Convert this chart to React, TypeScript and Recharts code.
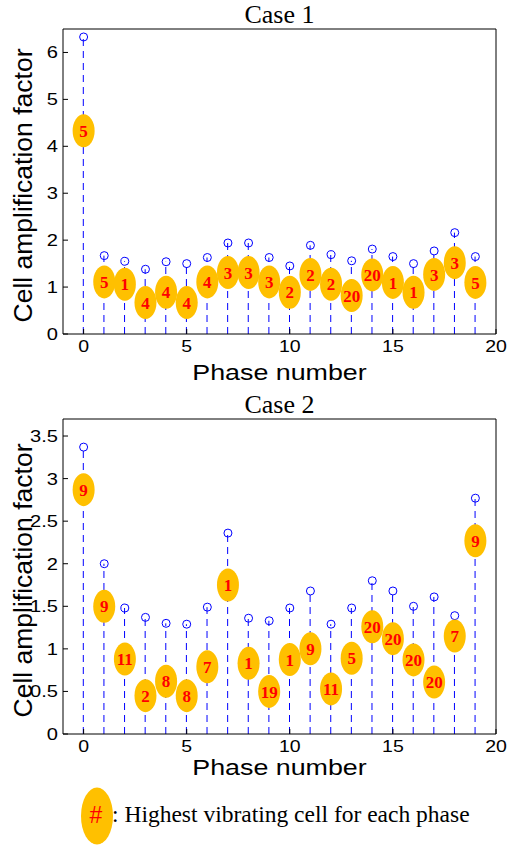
import { ComposedChart, Bar, Scatter, XAxis, YAxis, Label } from 'recharts';

const phases = [0, 1, 2, 3, 4, 5, 6, 7, 8, 9, 10, 11, 12, 13, 14, 15, 16, 17, 18, 19];
const xTicks = [0, 5, 10, 15, 20];

// Case 1: peak amplification (circles), bubble height, highest vibrating cell
const case1Peak = [6.33, 1.67, 1.55, 1.38, 1.54, 1.5, 1.63, 1.94, 1.94, 1.63, 1.45, 1.89, 1.69, 1.56, 1.81, 1.65, 1.5, 1.77, 2.16, 1.65];
const case1Pos = [4.33, 1.11, 1.06, 0.67, 0.89, 0.67, 1.11, 1.31, 1.31, 1.11, 0.89, 1.27, 1.06, 0.82, 1.26, 1.1, 0.89, 1.27, 1.52, 1.1];
const case1Cell = [5, 5, 1, 4, 4, 4, 4, 3, 3, 3, 2, 2, 2, 20, 20, 1, 1, 3, 3, 5];
const case1YTicks = [0, 1, 2, 3, 4, 5, 6];

// Case 2
const case2Peak = [3.37, 2.0, 1.48, 1.37, 1.3, 1.29, 1.49, 2.36, 1.36, 1.33, 1.48, 1.68, 1.29, 1.48, 1.8, 1.68, 1.5, 1.61, 1.39, 2.77];
const case2Pos = [2.87, 1.5, 0.88, 0.45, 0.62, 0.45, 0.79, 1.75, 0.83, 0.5, 0.875, 1.0, 0.53, 0.89, 1.26, 1.12, 0.87, 0.61, 1.15, 2.27];
const case2Cell = [9, 9, 11, 2, 8, 8, 7, 1, 1, 19, 1, 9, 11, 5, 20, 20, 20, 20, 7, 9];
const case2YTicks = [0, 0.5, 1, 1.5, 2, 2.5, 3, 3.5];

const SANS = '"Liberation Sans", Arial, sans-serif';
const SERIF = '"Liberation Serif", "Times New Roman", serif';
const BLUE = '#0000ff';
const GOLD = '#ffc000';

const Stem = (p: any) => {
    const cx = p.x + p.width / 2;
    return <line x1={cx} x2={cx} y1={p.y + p.height} y2={p.y} stroke={BLUE} strokeWidth={1} strokeDasharray="7 5" />;
};

const Marker = (p: any) => <circle cx={p.cx} cy={p.cy} r={4} fill="none" stroke={BLUE} strokeWidth={1} />;

const Bubble = (p: any) => (
    <g>
        <ellipse cx={p.cx} cy={p.cy} rx={11} ry={16.5} fill={GOLD} />
        <text x={p.cx} y={p.cy} dy="0.36em" textAnchor="middle" fontFamily={SERIF} fontWeight="bold" fontSize={17} fill="#ff0000">
            {p.payload.cell}
        </text>
    </g>
);

const XTick = (p: any) => (
    <text transform={`translate(${p.x},${p.y}) scale(1.22,1)`} textAnchor="middle" dy="0.71em" fontFamily={SANS} fontSize={16} fill="#000">
        {p.payload.value}
    </text>
);

const YTick = (p: any) => (
    <text transform={`translate(${p.x},${p.y}) scale(1.22,1)`} textAnchor="end" dy="0.36em" fontFamily={SANS} fontSize={16.5} fill="#000">
        {p.payload.value}
    </text>
);

type PanelProps = {
    title: string;
    peak: number[];
    pos: number[];
    cell: number[];
    yMax: number;
    yTicks: number[];
    height: number;
    xLabelDy: number;
};

const StemPanel = ({ title, peak, pos, cell, yMax, yTicks, height, xLabelDy }: PanelProps) => {
    const data = phases.map((phase, i) => ({ phase, peak: peak[i], pos: pos[i], cell: cell[i] }));
    return (
        <ComposedChart width={509} height={height} data={data} margin={{ top: 28, right: 12, left: 3, bottom: 6 }}>
            <XAxis
                dataKey="phase"
                type="number"
                domain={[-1, 20]}
                ticks={xTicks}
                allowDataOverflow
                height={50}
                stroke="#000"
                tickSize={-5}
                tickMargin={12}
                tick={<XTick />}
            >
                <Label
                    content={(lp: any) => {
                        const vb = lp.viewBox;
                        return (
                            <text transform={`translate(${vb.x + vb.width / 2},${vb.y + xLabelDy}) scale(1.22,1)`} textAnchor="middle" fontFamily={SANS} fontSize={22} fill="#000">
                                Phase number
                            </text>
                        );
                    }}
                />
            </XAxis>
            <XAxis
                xAxisId="top"
                orientation="top"
                dataKey="phase"
                type="number"
                domain={[-1, 20]}
                ticks={xTicks}
                allowDataOverflow
                height={1}
                stroke="#000"
                tickSize={-5}
                tick={false}
            >
                <Label
                    content={(lp: any) => {
                        const vb = lp.viewBox;
                        return (
                            <text x={vb.x + vb.width / 2} y={vb.y - 5} textAnchor="middle" fontFamily={SERIF} fontSize={26} fill="#000">
                                {title}
                            </text>
                        );
                    }}
                />
            </XAxis>
            <YAxis
                type="number"
                domain={[0, yMax]}
                ticks={yTicks}
                allowDataOverflow
                width={60}
                stroke="#000"
                tickSize={-5}
                tickMargin={10}
                tick={<YTick />}
            >
                <Label
                    content={(lp: any) => {
                        const vb = lp.viewBox;
                        return (
                            <text
                                transform={`translate(${vb.x + 20},${vb.y + vb.height / 2 + 4}) rotate(-90)`}
                                textAnchor="middle"
                                dominantBaseline="central"
                                fontFamily={SANS}
                                fontSize={26.5}
                                fill="#000"
                            >
                                Cell amplification factor
                            </text>
                        );
                    }}
                />
            </YAxis>
            <YAxis
                yAxisId="right"
                orientation="right"
                type="number"
                domain={[0, yMax]}
                ticks={yTicks}
                allowDataOverflow
                width={1}
                stroke="#000"
                tickSize={-5}
                tick={false}
            />
            <Bar dataKey="peak" barSize={2} shape={<Stem />} isAnimationActive={false} />
            <Scatter dataKey="peak" shape={<Marker />} isAnimationActive={false} />
            <Scatter dataKey="pos" shape={<Bubble />} isAnimationActive={false} />
        </ComposedChart>
    );
};

export default function App() {
    return (
        <div style={{ position: 'absolute', left: 0, top: 0, width: 509, height: 845, background: '#fff' }}>
            <div style={{ position: 'absolute', left: 0, top: 0 }}>
                <StemPanel title="Case 1" peak={case1Peak} pos={case1Pos} cell={case1Cell} yMax={6.5} yTicks={case1YTicks} height={390} xLabelDy={46} />
            </div>
            <div style={{ position: 'absolute', left: 0, top: 390 }}>
                <StemPanel title="Case 2" peak={case2Peak} pos={case2Pos} cell={case2Cell} yMax={3.7} yTicks={case2YTicks} height={400} xLabelDy={41} />
            </div>
            <svg width={509} height={65} style={{ position: 'absolute', left: 0, top: 780 }}>
                <ellipse cx={97} cy={36} rx={16} ry={28.5} fill={GOLD} />
                <text x={96} y={43} textAnchor="middle" fontFamily={SANS} fontSize={23} fill="#ff0000">#</text>
                <text x={112} y={42} fontFamily={SERIF} fontSize={23.5} fill="#000">: Highest vibrating cell for each phase</text>
            </svg>
        </div>
    );
}
